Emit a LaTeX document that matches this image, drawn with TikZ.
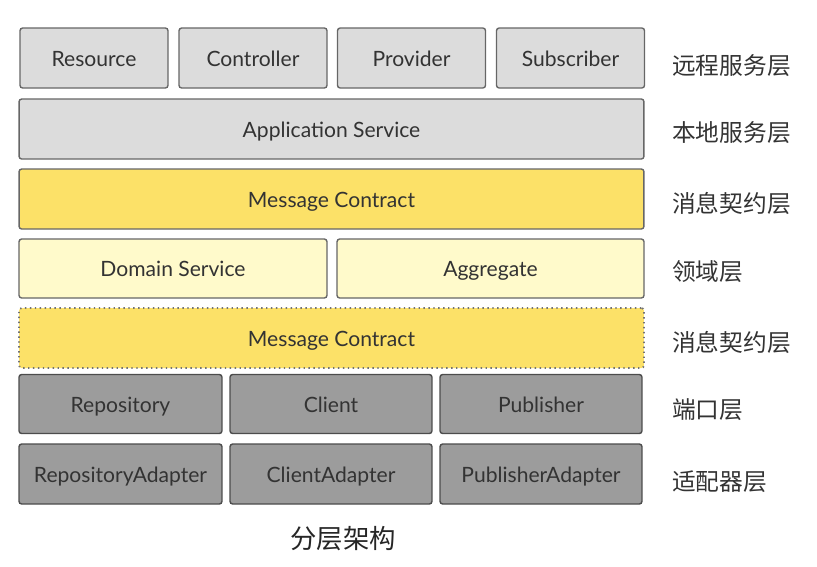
\documentclass[tikz,border=0pt]{standalone}
\usepackage{fontspec}
\setmainfont{Lato}
\newfontfamily\cjk{Noto Sans CJK SC}
\definecolor{grigio}{HTML}{DCDCDC}
\definecolor{grigioscuro}{HTML}{9C9C9C}
\definecolor{giallo}{HTML}{FCE168}
\definecolor{giallino}{HTML}{FFFACB}
\definecolor{testo}{HTML}{333333}
\tikzset{
  strato/.style={draw=black!60, line width=0.8pt, rounded corners=1.5pt,
    inner sep=0pt, outer sep=0pt, text=testo, text height=2.1ex, text depth=0.3ex,
    font=\fontsize{12}{14}\selectfont},
  chiaro/.style={strato, fill=grigio},
  scuro/.style={strato, fill=grigioscuro, draw=black!70},
  dominio/.style={strato, fill=giallino},
  contratto/.style={strato, fill=giallo},
  etichetta/.style={anchor=west, text=black!80, font=\cjk\fontsize{13.5}{16}\selectfont},
}
\begin{document}
\begin{tikzpicture}[x=0.02cm,y=-0.02cm]
    % Area del disegno
    \useasboundingbox (0,0) rectangle (817,566);

    % Livello remoto
    \node[chiaro, minimum width=2.96cm, minimum height=1.2cm] (resource) at (94,58) {Resource};
    \node[chiaro, minimum width=2.96cm, minimum height=1.2cm] (controller) at (253,58) {Controller};
    \node[chiaro, minimum width=2.96cm, minimum height=1.2cm] (provider) at (411.5,58) {Provider};
    \node[chiaro, minimum width=2.96cm, minimum height=1.2cm] (subscriber) at (570.5,58) {Subscriber};

    % Livello applicativo
    \node[chiaro, minimum width=12.5cm, minimum height=1.2cm] (appservice) at (331.5,129) {Application Service};

    % Contratto dei messaggi
    \node[contratto, minimum width=12.5cm, minimum height=1.2cm] (contratto1) at (331.5,199) {Message Contract};

    % Livello di dominio
    \node[dominio, minimum width=6.16cm, minimum height=1.18cm] (domainservice) at (173,268.5) {Domain Service};
    \node[dominio, minimum width=6.14cm, minimum height=1.18cm] (aggregate) at (490.5,268.5) {Aggregate};

    % Contratto dei messaggi (tratteggiato)
    \node[contratto, dotted, draw=black!55, line width=1pt, minimum width=12.5cm, minimum height=1.2cm] (contratto2) at (331.5,338) {Message Contract};

    % Porte
    \node[scuro, minimum width=4.06cm, minimum height=1.18cm] (repository) at (120.5,404) {Repository};
    \node[scuro, minimum width=4.04cm, minimum height=1.18cm] (client) at (331,404) {Client};
    \node[scuro, minimum width=4.04cm, minimum height=1.18cm] (publisher) at (541,404) {Publisher};

    % Adattatori
    \node[scuro, minimum width=4.06cm, minimum height=1.2cm] (repoadapter) at (120.5,474) {RepositoryAdapter};
    \node[scuro, minimum width=4.04cm, minimum height=1.2cm] (clientadapter) at (331,474) {ClientAdapter};
    \node[scuro, minimum width=4.04cm, minimum height=1.2cm] (pubadapter) at (541,474) {PublisherAdapter};

    % Nomi dei livelli
    \node[etichetta] (lremoto) at (666,66) {远程服务层};
    \node[etichetta] (llocale) at (666,133) {本地服务层};
    \node[etichetta] (lcontratto1) at (666,203) {消息契约层};
    \node[etichetta] (ldominio) at (666,272) {领域层};
    \node[etichetta] (lcontratto2) at (666,342) {消息契约层};
    \node[etichetta] (lporte) at (666,410) {端口层};
    \node[etichetta] (ladattatori) at (666,482) {适配器层};

    % Titolo
    \node[text=black!85, font=\cjk\fontsize{15}{18}\selectfont] (titolo) at (343,539) {分层架构};

\end{tikzpicture}
\end{document}
